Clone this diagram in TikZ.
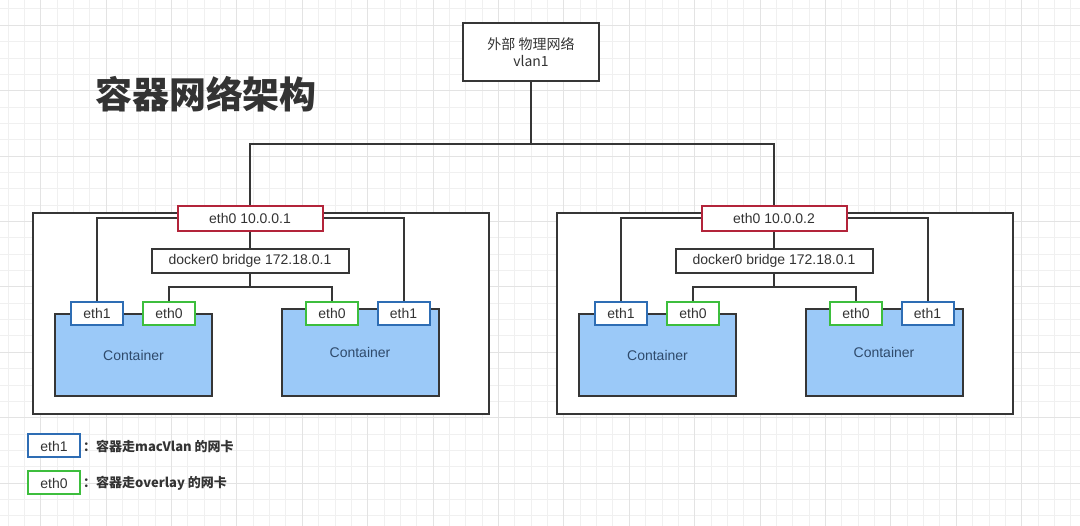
\documentclass[tikz,border=0pt]{standalone}
\usepackage{fontspec}
\setmainfont{Liberation Sans}
\newfontfamily\cjk{Noto Sans CJK SC}
\usetikzlibrary{calc}
\definecolor{linegray}{HTML}{363636}
\definecolor{textgray}{HTML}{333333}
\definecolor{redc}{HTML}{B3243A}
\definecolor{bluec}{HTML}{2E6DB4}
\definecolor{greenc}{HTML}{3DBE3D}
\definecolor{contfill}{HTML}{9BC9F8}
\definecolor{conttext}{HTML}{2F4A6B}
\definecolor{gridminor}{HTML}{F0F0F0}
\definecolor{gridmajor}{HTML}{E3E3E3}
\pgfdeclarelayer{gridlayer}
\pgfdeclarelayer{hostlayer}
\pgfdeclarelayer{wirelayer}
\pgfsetlayers{gridlayer,hostlayer,wirelayer,main}
\tikzset{
  wire/.style={draw=linegray, line width=2pt},
  box/.style={draw=linegray, line width=2pt, fill=white, inner sep=0pt, text=textgray,
    font=\fontsize{14}{17}\selectfont},
  hostbox/.style={box, minimum width=456pt, minimum height=201pt},
  ethhost/.style={box, draw=redc, minimum width=145pt, minimum height=25pt},
  bridgebox/.style={box, minimum width=197pt, minimum height=24pt},
  cont/.style={box, fill=contfill, text=conttext, minimum width=157pt},
  nicblue/.style={box, draw=bluec, minimum width=52pt, minimum height=23pt},
  nicgreen/.style={box, draw=greenc, minimum width=52pt, minimum height=23pt},
  legtext/.style={anchor=west, inner sep=0pt, text=textgray,
    font=\cjk\bfseries\fontsize{13}{15}\selectfont},
}
\newcommand\HostUnit[3]{%
  \begin{scope}[shift={(#2,0)}]
    \begin{pgfonlayer}{hostlayer}
      \node[hostbox] (host#1) at (261,313.5) {};
    \end{pgfonlayer}
    \node[ethhost] (eth#1) at (250,218.5) {eth0 #3};
    \node[bridgebox] (bridge#1) at (250,261) {docker0 bridge 172.18.0.1};
    \node[cont, minimum height=82pt] (contA#1) at (133.5,355) {Container};
    \node[cont, minimum height=87pt] (contB#1) at (360,352.5) {Container};
    \node[nicblue] (nicAone#1) at (97,313.5) {eth1};
    \node[nicgreen] (nicAzero#1) at (169,313.5) {eth0};
    \node[nicgreen] (nicBzero#1) at (332,313.5) {eth0};
    \node[nicblue] (nicBone#1) at (403.5,313.5) {eth1};
    \coordinate (fork#1) at (250,287);
  \end{scope}
  \begin{pgfonlayer}{wirelayer}
    \draw[wire] (eth#1.west) -| (nicAone#1.north);
    \draw[wire] (eth#1.east) -| (nicBone#1.north);
    \draw[wire] (eth#1.south) -- (bridge#1.north);
    \draw[wire] (bridge#1.south) -- (fork#1);
    \draw[wire] (nicAzero#1.north) |- (fork#1);
    \draw[wire] (nicBzero#1.north) |- (fork#1);
    \draw[wire] (hub) -| (eth#1.north);
  \end{pgfonlayer}
}
\begin{document}
\begin{tikzpicture}[x=1pt, y=-1pt]
  \useasboundingbox (0,0) rectangle (1080,526);
  \begin{pgfonlayer}{gridlayer}
    \fill[white] (0,0) rectangle (1080,526);
    \foreach \i in {0,...,66} {
      \pgfmathsetmacro\gx{8+16.35*\i}
      \draw[gridminor, line width=1pt] (\gx,0) -- (\gx,526);
    }
    \foreach \i in {0,...,32} {
      \pgfmathsetmacro\gy{9+16.35*\i}
      \draw[gridminor, line width=1pt] (0,\gy) -- (1080,\gy);
    }
    \foreach \i in {0,...,16} {
      \pgfmathsetmacro\gx{40.7+65.4*\i}
      \draw[gridmajor, line width=1pt] (\gx,0) -- (\gx,526);
    }
    \foreach \i in {0,...,7} {
      \pgfmathsetmacro\gy{25.35+65.4*\i}
      \draw[gridmajor, line width=1pt] (0,\gy) -- (1080,\gy);
    }
  \end{pgfonlayer}

  \node[text=textgray, font=\cjk\bfseries\fontsize{37}{40}\selectfont] (title) at (206,94) {容器网络架构};

  \node[box, minimum width=136pt, minimum height=58pt, align=center,
        font=\cjk\fontsize{14}{17}\selectfont] (ext) at (531,52) {外部 物理网络\\vlan1};
  \coordinate (hub) at (531,144);
  \begin{pgfonlayer}{wirelayer}
    \draw[wire] (ext.south) -- (hub);
  \end{pgfonlayer}

  \HostUnit{L}{0}{10.0.0.1}
  \HostUnit{R}{524}{10.0.0.2}

  \node[nicblue] (legone) at (54,446) {eth1};
  \node[legtext] (legonetext) at (83,446) {：容器走macVlan 的网卡};
  \node[nicgreen] (legzero) at (54,483) {eth0};
  \node[legtext] (legzerotext) at (83,483) {：容器走overlay 的网卡};
\end{tikzpicture}
\end{document}
